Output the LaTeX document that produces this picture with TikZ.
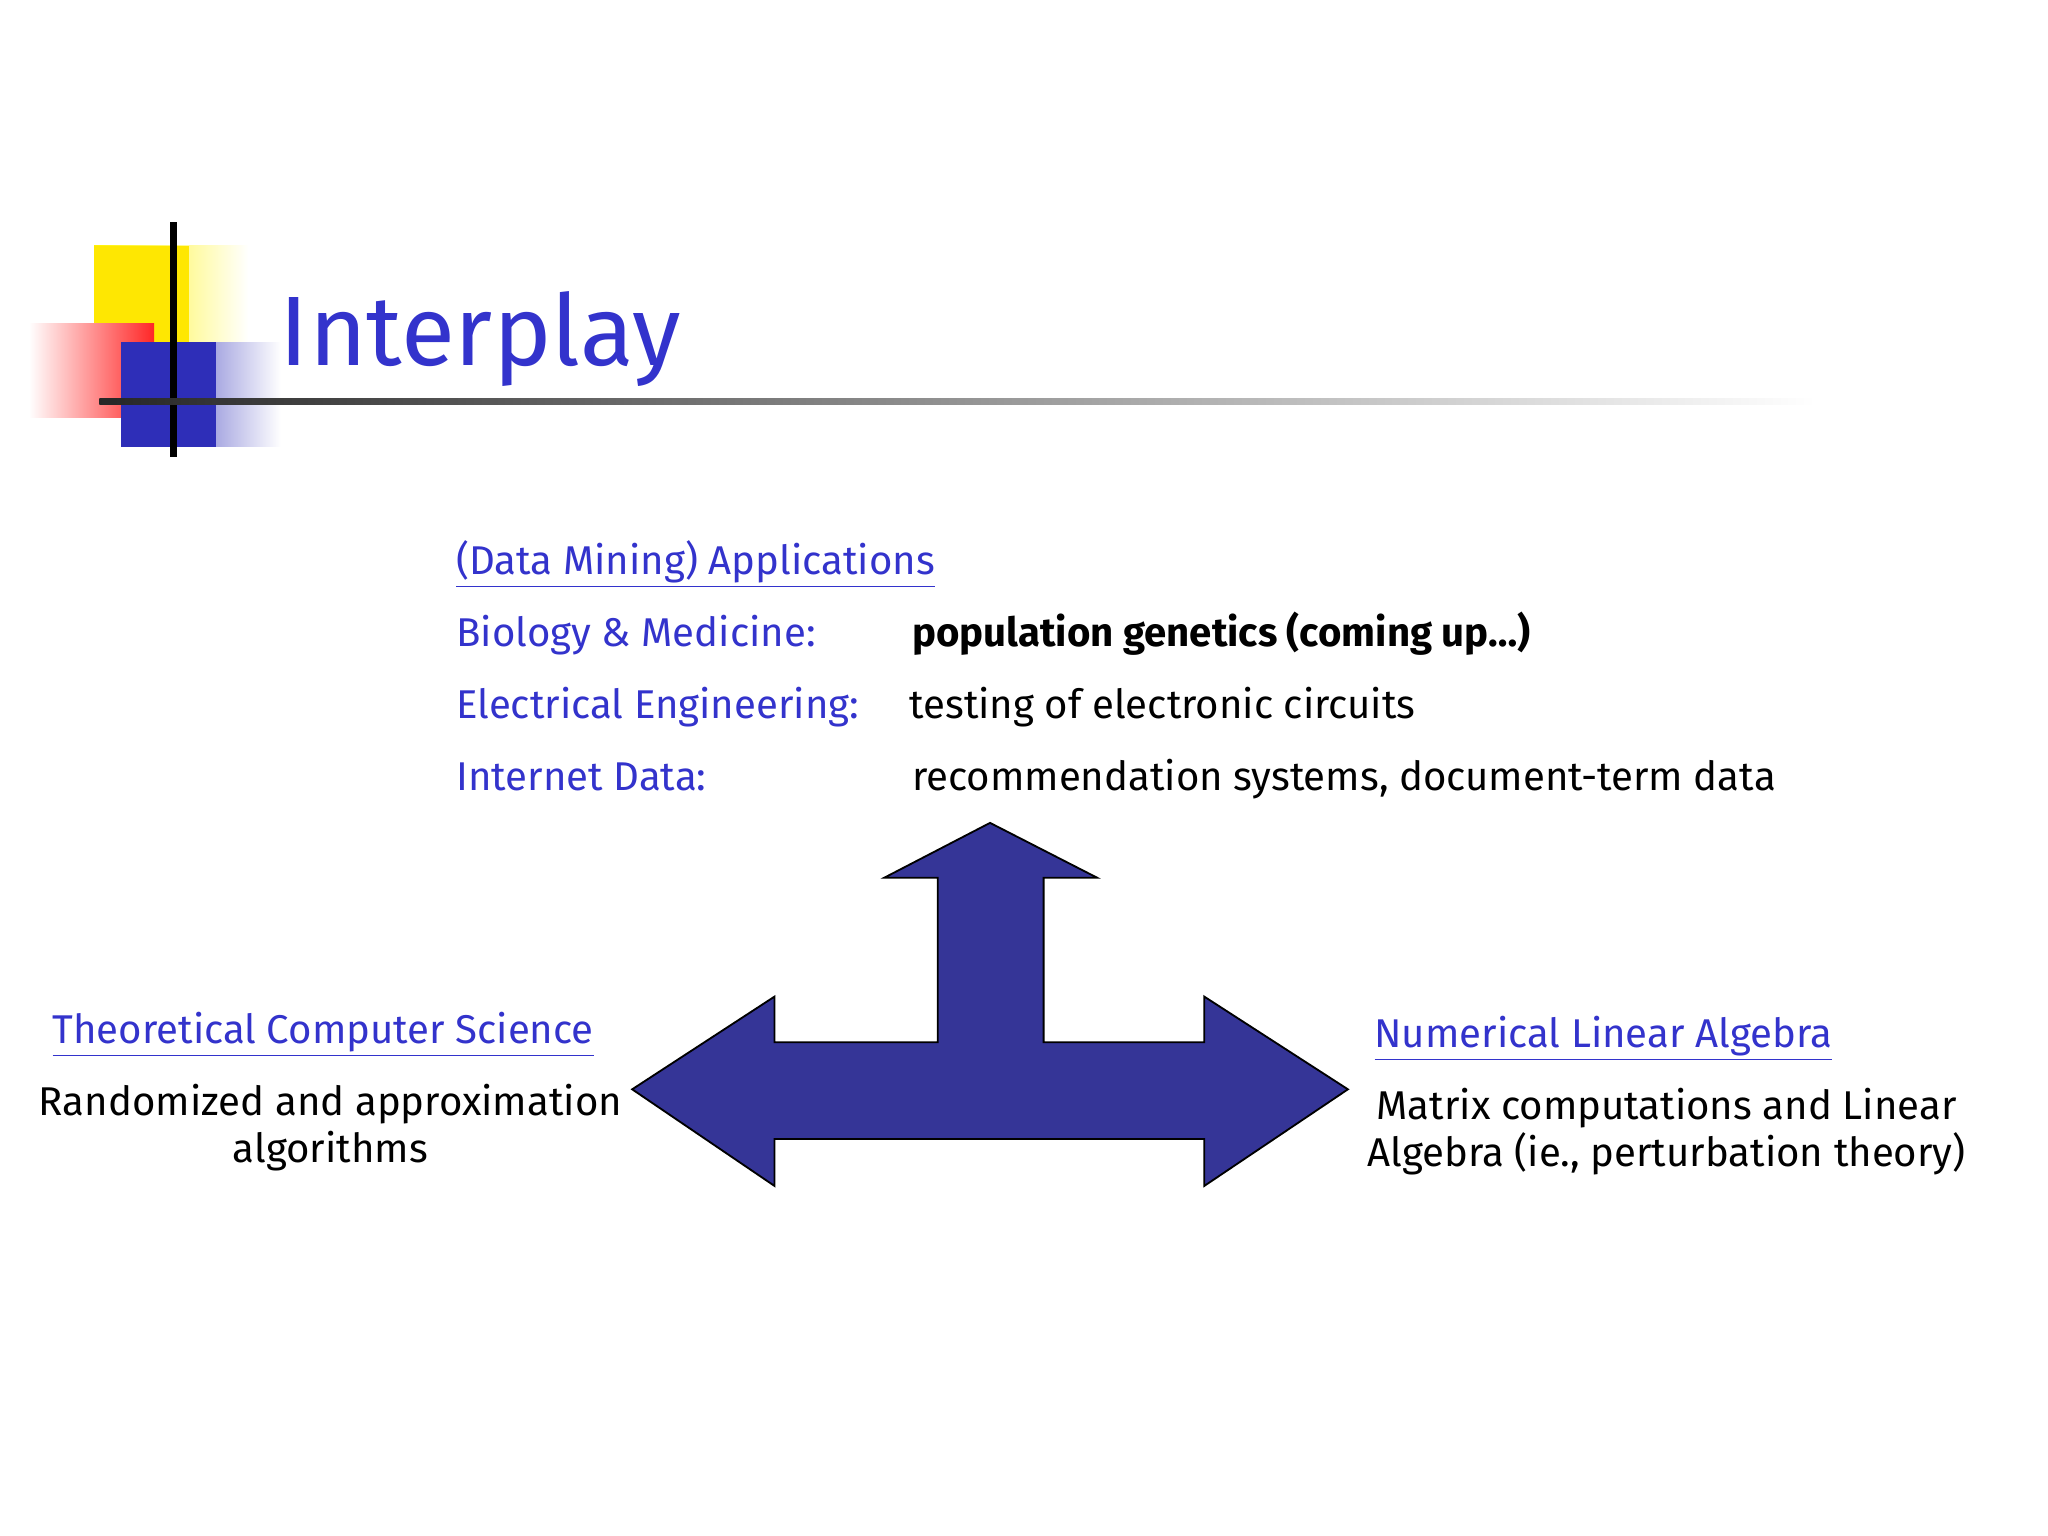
\documentclass[tikz,border=0pt]{standalone}
\usepackage{fontspec}
\setmainfont{Fira Sans}
\usetikzlibrary{shadings}
\definecolor{tblue}{HTML}{3333CC}
\definecolor{afill}{HTML}{353597}
\tikzset{lbl/.style={anchor=base west,text=tblue,font=\fontsize{17.5}{20.5}\selectfont,inner sep=0pt},
 txt/.style={anchor=base west,text=black,font=\fontsize{17.5}{20.5}\selectfont,inner sep=0pt},
 link/.style={lbl,text=tblue}}
\begin{document}
\begin{tikzpicture}[x=0.02cm,y=-0.02cm]
\useasboundingbox (0,0) rectangle (1568,1176);
\fill[white] (0,0) rectangle (1568,1176);
% decoration
\shade[left color=yellow!90!orange,right color=white] (72,188) rectangle (190,262);
\fill[yellow!90!orange] (72,188) rectangle (145,262);
\shade[left color=white,right color=red!85] (22,248) rectangle (118,320);
\shade[left color=tblue!90!black,right color=white] (93,262) rectangle (215,342);
\fill[tblue!90!black] (93,262) rectangle (165,342);
\draw[line width=3pt] (133,170) -- (133,350);
\shade[left color=black!85,right color=white] (76,305) rectangle (1390,310);
\node[anchor=base west,text=tblue,font=\fontsize{43}{48}\selectfont,inner sep=0pt] (title) at (214,280) {Interplay};
% applications
\node[link] (app) at (349,440) {\underline{(Data Mining) Applications}};
\node[lbl] (bio) at (349,495) {Biology \& Medicine:};
\node[txt,font=\fontsize{17.5}{20.5}\selectfont\bfseries] (bioT) at (698,495) {population genetics (coming up…)};
\node[lbl] (ee) at (349,550) {Electrical Engineering:};
\node[txt] (eeT) at (696,550) {testing of electronic circuits};
\node[lbl] (inet) at (349,605) {Internet Data:};
\node[txt] (inetT) at (698,605) {recommendation systems, document-term data};
% arrow
\draw[fill=afill,line width=0.8pt] (758,630) -- (840,672) -- (799,672) -- (799,798) -- (922,798) -- (922,763) -- (1032,834) -- (922,908) -- (922,872) -- (593,872) -- (593,908) -- (484,834) -- (593,763) -- (593,798) -- (718,798) -- (718,672) -- (677,672) -- cycle;
% left
\node[link] (tcs) at (40,799) {\underline{Theoretical Computer Science}};
\node[txt,anchor=base,align=center] (tcsT) at (253,890) {Randomized and approximation\\algorithms};
% right
\node[link] (nla) at (1052,802) {\underline{Numerical Linear Algebra}};
\node[txt,anchor=base,align=center] (nlaT) at (1276,893) {Matrix computations and Linear\\Algebra (ie., perturbation theory)};
\end{tikzpicture}
\end{document}
